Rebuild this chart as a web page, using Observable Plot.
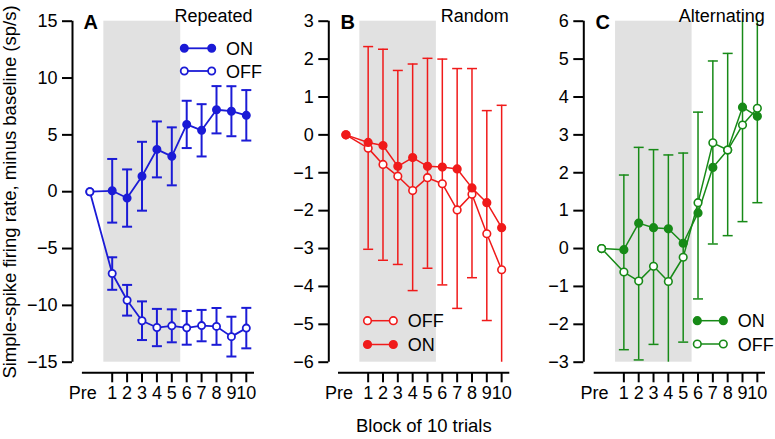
<!DOCTYPE html>
<html><head><meta charset="utf-8">
<script src="https://cdn.jsdelivr.net/npm/d3@7"></script>
<script src="https://cdn.jsdelivr.net/npm/@observablehq/plot@0.6"></script>
<style>
html,body{margin:0;padding:0;background:#fff;}
#chart{position:relative;width:775px;height:439px;overflow:hidden;font-family:"Liberation Sans",Arial,sans-serif;}
#chart svg{position:absolute;top:0;}
</style></head><body><div id="chart"></div>
<script>
// ---------- data ----------
const blocks = [1, 2, 3, 4, 5, 6, 7, 8, 9, 10];
const PRE = -0.5;            // x position of the "Pre" baseline point
const preValue = 0;
const preLabel = "Pre";
const yTitle = "Simple-spike firing rate, minus baseline (sp/s)";
const xTitle = "Block of 10 trials";

// Panel A – Repeated (mean ± error)
const aOnMean  = [0.08, -0.56, 1.36, 3.72, 3.11, 5.92, 5.40, 7.21, 7.08, 6.72];
const aOnErr   = [2.80, 2.52, 3.03, 2.46, 2.55, 2.08, 2.30, 2.08, 2.20, 2.22];
const aOffMean = [-7.20, -9.55, -11.35, -11.95, -11.80, -11.98, -11.78, -11.85, -12.75, -12.00];
const aOffErr  = [1.43, 1.35, 1.70, 1.64, 1.45, 1.48, 1.38, 1.62, 1.75, 1.78];
const aTicks = [-15, -10, -5, 0, 5, 10, 15];

// Panel B – Random (bar top = ON + error, bar bottom = OFF - error)
const bOnMean  = [-0.20, -0.28, -0.83, -0.60, -0.83, -0.85, -0.90, -1.40, -1.79, -2.45];
const bOffMean = [-0.35, -0.78, -1.09, -1.47, -1.13, -1.29, -1.98, -1.57, -2.61, -3.56];
const bErrTop    = [2.33, 2.26, 1.70, 1.87, 2.02, 2.00, 1.75, 1.75, 0.64, 0.78];
const bErrBottom = [-3.02, -3.31, -3.42, -4.11, -3.52, -3.96, -4.58, -3.77, -4.90, -6.60];
const bTicks = [-6, -5, -4, -3, -2, -1, 0, 1, 2, 3];

// Panel C – Alternating
const cOnMean  = [-0.03, 0.67, 0.55, 0.52, 0.14, 0.94, 2.14, 2.60, 3.73, 3.49];
const cOffMean = [-0.62, -0.86, -0.47, -0.87, -0.23, 1.21, 2.79, 2.60, 3.26, 3.70];
const cErrTop    = [1.94, 2.67, 2.61, 2.47, 2.52, 3.60, 4.95, 5.15, 6.40, 6.40];
const cErrBottom = [-2.67, -2.94, -2.53, -3.30, -2.47, -1.33, 0.12, 0.34, 0.71, 1.21];
const cTicks = [-3, -2, -1, 0, 1, 2, 3, 4, 5, 6];

const shadeBlocks = [0.44, 5.6];   // grey band behind blocks 1–5
const xDomain = [-1, 10.55];

// ---------- layout / style ----------
const H = 439, Y_TOP = 20.7, Y_BOTTOM = 361.7, X_AXIS_Y = 372.3;
const FONT = "Liberation Sans, Arial, sans-serif";
const fmt = d3.format("d");
const capSymbol = {draw(ctx, size) { const w = Math.sqrt(size / Math.PI); ctx.moveTo(-w, 0); ctx.lineTo(w, 0); }};
const series = means => [{x: PRE, y: preValue}, ...blocks.map((b, i) => ({x: b, y: means[i]}))];

function makePanel(p) {
  const g = p.geom;
  const [yMin, yMax] = p.yDomain;
  const clamp = v => Math.max(yMin, Math.min(yMax, v));
  const inRange = v => v >= yMin && v <= yMax;
  const bars = p.bars.flatMap(([lo, hi]) => blocks.map((b, i) => ({x: b, lo: lo[i], hi: hi[i]})));
  const caps = bars.flatMap(d => [d.lo, d.hi].filter(inRange).map(v => ({x: d.x, y: v})));
  const rows = {on: series(p.onMean), off: series(p.offMean)};

  const marks = [
    Plot.rect([{x1: shadeBlocks[0], x2: shadeBlocks[1], y1: yMin, y2: yMax}],
      {x1: "x1", x2: "x2", y1: "y1", y2: "y2", fill: "#e1e1e1"}),
    Plot.ruleX([xDomain[0]], {y1: yMin, y2: yMax, dx: -(g.xStart - g.axisX), stroke: "black", strokeWidth: 2}),
    Plot.ruleY([yMin], {x1: xDomain[0], x2: xDomain[1], dy: X_AXIS_Y - Y_BOTTOM, stroke: "black", strokeWidth: 2}),
    Plot.axisY({anchor: "left", ticks: p.ticks, tickFormat: fmt, tickSize: 10, tickPadding: 5,
      strokeWidth: 2, fontSize: 18, label: null}),
    Plot.axisX({anchor: "bottom", ticks: blocks, tickFormat: d => String(d), tickSize: 10, tickPadding: 3,
      strokeWidth: 2, fontSize: 18, label: null}),
    Plot.axisX({anchor: "bottom", ticks: [PRE], tickFormat: () => preLabel, tickSize: 0, tickPadding: 13,
      dx: -7, fontSize: 18, label: null}),
    Plot.ruleX(bars, {x: "x", y1: d => clamp(d.lo), y2: d => clamp(d.hi), stroke: p.color, strokeWidth: p.barWidth}),
    Plot.dot(caps, {x: "x", y: "y", symbol: capSymbol, r: 5, fill: "none", stroke: p.color, strokeWidth: p.barWidth})
  ];
  for (const key of p.order) {
    marks.push(
      Plot.line(rows[key], {x: "x", y: "y", stroke: p.color, strokeWidth: p.lineWidth}),
      Plot.dot(rows[key], {x: "x", y: "y", r: p.r, fill: key === "on" ? p.color : "white",
        stroke: p.color, strokeWidth: p.dotStroke})
    );
  }
  marks.push(
    Plot.text([p.letter], {frameAnchor: "top-left", textAnchor: "start", lineAnchor: "bottom",
      dx: g.letterDx, dy: 7.8, fontSize: 20, fontWeight: "bold"}),
    Plot.text([p.title], {frameAnchor: "top-right", textAnchor: "end", lineAnchor: "bottom",
      dx: g.titleDx, dy: 0.4, fontSize: 18})
  );
  if (p.yLabel) marks.push(Plot.text([p.yLabel], {frameAnchor: "left", textAnchor: "middle", rotate: -90,
    dx: 10 - g.axisX, dy: -5, fontSize: 18.5}));
  if (p.xLabel) marks.push(Plot.text([p.xLabel], {frameAnchor: "bottom", textAnchor: "middle", lineAnchor: "bottom",
    dx: 423.3 - (g.axisX + g.xEnd) / 2, dy: 59.2, fontSize: 18.5}));

  const svg = Plot.plot({
    width: g.width, height: H,
    marginLeft: g.axisX - g.left, marginRight: g.left + g.width - g.xEnd,
    marginTop: Y_TOP, marginBottom: H - X_AXIS_Y,
    x: {domain: xDomain, range: [g.xStart - g.left, g.xEnd - g.left]},
    y: {domain: p.yDomain, range: [Y_BOTTOM, Y_TOP]},
    style: {background: "transparent", color: "black", fontFamily: FONT, overflow: "visible"},
    marks
  });
  svg.style.left = g.left + "px";

  // legend
  const L = p.legend;
  const lg = d3.select(svg).append("g").attr("transform", `translate(${-g.left},0)`);
  for (const e of L.rows) {
    lg.append("line").attr("x1", L.x0).attr("x2", L.x1).attr("y1", e.y).attr("y2", e.y)
      .attr("stroke", p.color).attr("stroke-width", p.lineWidth);
    for (const cx of [L.x0, L.x1]) {
      lg.append("circle").attr("cx", cx).attr("cy", e.y).attr("r", p.r)
        .attr("fill", e.key === "on" ? p.color : "white").attr("stroke", p.color).attr("stroke-width", p.dotStroke);
    }
    lg.append("text").attr("x", L.tx).attr("y", e.y + 6.5).attr("font-size", 18)
      .attr("text-anchor", "start").attr("font-family", FONT).attr("fill", "black")
      .text(e.key.toUpperCase());
  }
  document.getElementById("chart").appendChild(svg);
}

makePanel({
  letter: "A", title: "Repeated", color: "#1b1bd6", yDomain: [-15, 15], ticks: aTicks,
  onMean: aOnMean, offMean: aOffMean,
  bars: [[aOnMean.map((m, i) => m - aOnErr[i]), aOnMean.map((m, i) => m + aOnErr[i])],
         [aOffMean.map((m, i) => m - aOffErr[i]), aOffMean.map((m, i) => m + aOffErr[i])]],
  order: ["on", "off"], r: 3.6, dotStroke: 1.8, lineWidth: 1.8, barWidth: 2,
  yLabel: yTitle,
  geom: {left: 0, width: 258, axisX: 72, xStart: 81.9, xEnd: 254, letterDx: 11, titleDx: -2},
  legend: {x0: 184.3, x1: 211.7, tx: 226, rows: [{key: "on", y: 48.3}, {key: "off", y: 71}]}
});
makePanel({
  letter: "B", title: "Random", color: "#f01a1a", yDomain: [-6, 3], ticks: bTicks,
  onMean: bOnMean, offMean: bOffMean, bars: [[bErrBottom, bErrTop]],
  order: ["off", "on"], r: 3.8, dotStroke: 1.6, lineWidth: 1.5, barWidth: 1.5,
  xLabel: xTitle,
  geom: {left: 258, width: 257, axisX: 328.3, xStart: 338, xEnd: 509.3, letterDx: 11.7, titleDx: -1},
  legend: {x0: 367.5, x1: 393.3, tx: 407.7, rows: [{key: "off", y: 320.7}, {key: "on", y: 344.5}]}
});
makePanel({
  letter: "C", title: "Alternating", color: "#178a17", yDomain: [-3, 6], ticks: cTicks,
  onMean: cOnMean, offMean: cOffMean, bars: [[cErrBottom, cErrTop]],
  order: ["on", "off"], r: 3.8, dotStroke: 1.6, lineWidth: 1.5, barWidth: 1.5,
  geom: {left: 515, width: 260, axisX: 583.3, xStart: 593.7, xEnd: 765, letterDx: 11.7, titleDx: -0.7},
  legend: {x0: 697.3, x1: 723.3, tx: 737.7, rows: [{key: "on", y: 320.7}, {key: "off", y: 344}]}
});
</script></body></html>
